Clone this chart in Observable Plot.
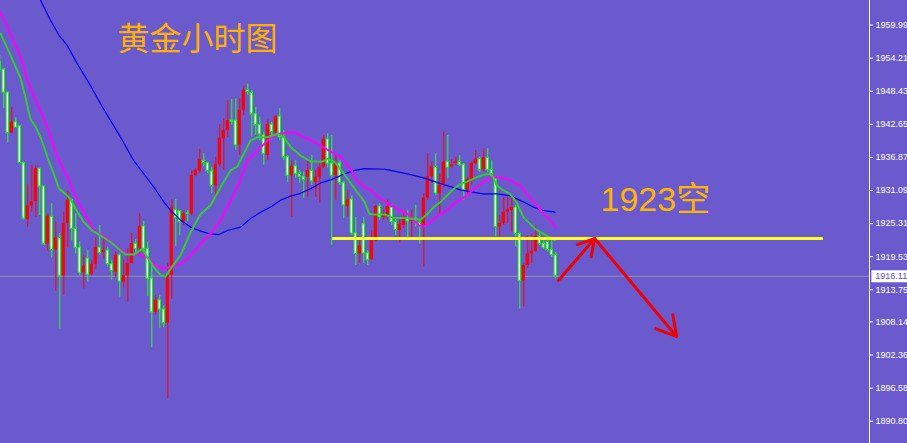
<!DOCTYPE html>
<html><head><meta charset="utf-8">
<script src="https://cdn.jsdelivr.net/npm/d3@7"></script>
<script src="https://cdn.jsdelivr.net/npm/@observablehq/plot@0.6"></script>
<style>html,body{margin:0;padding:0;background:#6A5ACD;overflow:hidden}</style>
</head><body><div id="chart"></div>
<script>
// bar index of the first candle (partly cut at the left edge)
const firstBar = -1;
const opens = [
1953.5,1952.2,1948.2,1941.1,1943.0,1942.3,1935.9,1926.0,1928.4,1929.2,
1934.9,1931.8,1921.7,1926.5,1920.7,1922.8,1916.2,1925.3,1929.4,1924.4,
1921.1,1916.7,1919.2,1916.4,1918.2,1921.1,1920.2,1920.6,1918.2,1916.8,
1919.8,1915.1,1916.2,1918.3,1921.8,1920.9,1924.8,1920.9,1915.7,1909.8,
1911.9,1910.3,1907.9,1916.3,1927.7,1927.5,1925.6,1927.1,1927.0,1933.7,
1934.5,1936.3,1935.9,1934.4,1931.9,1935.6,1940.1,1941.6,1943.3,1943.3,
1939.0,1945.1,1948.6,1948.1,1944.4,1942.5,1940.7,1937.2,1942.6,1941.1,
1944.0,1940.4,1936.9,1933.7,1935.3,1934.0,1933.4,1933.4,1934.5,1932.5,
1933.4,1935.1,1940.0,1935.8,1933.7,1935.8,1932.4,1928.3,1929.5,1923.6,
1920.0,1925.2,1920.1,1919.0,1922.3,1928.3,1926.4,1926.4,1928.1,1925.6,
1924.1,1925.0,1926.2,1925.7,1926.2,1925.4,1925.0,1929.8,1933.5,1935.2,
1930.5,1932.0,1936.1,1935.2,1935.8,1936.1,1935.6,1931.1,1933.0,1935.8,
1936.6,1934.7,1936.8,1934.7,1933.0,1924.7,1925.3,1927.3,1927.6,1928.1,
1923.5,1915.3,1918.0,1920.0,1920.5,1923.1,1921.8,1922.1,1920.7,1919.8];
const highs = [
1954.7,1952.4,1948.2,1945.6,1943.8,1942.4,1936.0,1932.1,1935.5,1935.5,
1934.9,1931.8,1927.0,1928.8,1925.6,1923.6,1927.3,1931.0,1929.5,1927.0,
1922.1,1919.8,1920.6,1918.9,1922.8,1925.0,1922.8,1921.2,1918.9,1920.3,
1920.0,1919.0,1920.9,1923.6,1922.5,1927.0,1925.7,1922.1,1918.3,1912.8,
1912.8,1911.0,1918.3,1929.5,1929.5,1927.6,1927.6,1927.6,1934.5,1934.9,
1938.3,1937.5,1936.0,1935.2,1936.9,1942.6,1943.6,1946.8,1947.0,1947.1,
1947.1,1949.3,1949.7,1948.6,1945.6,1943.9,1941.3,1943.4,1943.0,1944.2,
1945.4,1941.6,1937.2,1936.3,1936.3,1934.6,1934.3,1936.3,1937.2,1934.6,
1935.8,1940.7,1941.0,1940.7,1937.5,1936.3,1932.7,1931.1,1930.2,1926.4,
1922.4,1926.4,1920.6,1924.1,1928.5,1928.8,1927.6,1929.4,1928.5,1926.4,
1925.9,1927.3,1927.6,1927.6,1928.5,1926.0,1930.5,1937.5,1936.1,1937.5,
1934.0,1941.3,1940.7,1936.5,1936.9,1937.2,1935.8,1933.4,1936.1,1938.1,
1936.9,1938.4,1938.4,1936.3,1933.4,1926.7,1929.9,1929.9,1929.9,1928.5,
1923.8,1918.4,1923.2,1923.4,1924.7,1923.5,1922.4,1922.7,1922.4,1920.3];
const lows = [
1951.7,1945.4,1939.4,1941.0,1942.1,1935.8,1925.9,1924.7,1927.3,1926.4,
1926.7,1921.5,1920.5,1919.3,1913.5,1906.9,1912.8,1921.1,1922.3,1920.0,
1916.2,1913.9,1915.1,1916.2,1917.3,1919.8,1919.1,1917.7,1915.4,1915.9,
1912.5,1914.1,1911.6,1918.3,1920.0,1920.0,1920.3,1912.6,1903.6,1909.3,
1907.0,1907.1,1894.7,1912.1,1921.3,1923.2,1925.0,1925.6,1926.7,1933.5,
1934.0,1935.2,1934.0,1930.5,1929.9,1935.2,1934.6,1940.3,1942.5,1938.1,
1937.2,1944.2,1947.7,1940.4,1940.7,1939.8,1935.5,1936.3,1939.8,1940.7,
1939.8,1936.3,1932.5,1926.4,1933.2,1932.3,1929.7,1929.9,1932.0,1929.9,
1928.9,1935.0,1935.0,1921.5,1929.4,1932.0,1926.2,1926.4,1923.2,1918.0,
1918.3,1918.3,1918.0,1918.9,1922.1,1925.9,1925.9,1925.9,1925.0,1923.2,
1921.9,1924.5,1922.9,1922.9,1924.7,1921.7,1917.7,1929.4,1932.3,1930.2,
1926.9,1931.6,1933.2,1935.0,1935.5,1935.3,1929.4,1930.2,1932.0,1935.5,
1934.2,1934.4,1934.2,1933.4,1923.0,1923.0,1925.0,1925.3,1923.8,1921.2,
1910.4,1910.8,1917.5,1918.3,1920.3,1921.5,1920.8,1920.4,1919.4,1915.7];
const closes = [
1952.2,1948.2,1941.1,1943.1,1942.1,1935.9,1926.2,1928.4,1929.1,1934.9,
1931.8,1921.7,1926.6,1920.7,1922.8,1916.2,1925.3,1929.4,1924.4,1921.1,
1916.7,1917.9,1916.4,1918.2,1921.1,1920.2,1920.6,1918.2,1917.0,1919.8,
1915.2,1916.2,1918.3,1921.8,1920.9,1924.8,1920.9,1915.7,1909.8,1911.9,
1910.3,1907.9,1916.3,1928.1,1926.3,1925.6,1927.0,1927.0,1933.7,1934.6,
1936.5,1935.9,1934.5,1931.9,1935.6,1940.2,1941.6,1943.3,1943.1,1939.0,
1945.1,1948.6,1948.3,1944.4,1942.5,1940.9,1937.5,1942.6,1941.3,1944.0,
1940.4,1936.9,1933.7,1935.3,1934.0,1933.5,1932.9,1934.6,1932.7,1933.4,
1935.1,1940.0,1935.8,1933.7,1935.8,1932.4,1928.5,1929.5,1923.6,1920.0,
1921.4,1920.1,1919.0,1922.3,1928.3,1926.4,1926.7,1928.3,1925.6,1924.2,
1925.2,1926.4,1925.7,1926.0,1925.7,1924.9,1929.8,1933.5,1935.2,1930.6,
1932.0,1936.1,1935.1,1935.6,1936.1,1935.6,1931.1,1933.0,1935.8,1936.6,
1934.7,1936.8,1934.7,1934.0,1924.7,1925.3,1927.3,1927.7,1928.1,1923.5,
1915.3,1918.0,1920.0,1920.5,1923.1,1921.8,1921.1,1920.7,1919.8,1916.11];

// moving averages: [bar index, price]
const fastMA = [
[-0.8,1958.5],[1.7,1954.7],[4.2,1950.7],[5.4,1947.4],[6.7,1943.5],[7.9,1942.3],[9.2,1940.4],
[10.9,1936.9],[12.5,1934.0],[13.8,1931.4],[15.4,1930.5],[16.7,1929.6],[17.9,1927.9],[20,1925.6],
[22.1,1924.1],[24.2,1923.2],[26.7,1922.1],[29.2,1920.6],[30.4,1919.9],[32.5,1919.9],[34.6,1920.9],
[35.9,1919.4],[37.5,1917.7],[39.2,1916.3],[40.4,1916.0],[41.7,1917.4],[44.2,1919.8],[46.7,1923.8],
[49.2,1927.0],[51.7,1928.5],[54.2,1931.7],[56.7,1934.6],[58.4,1935.3],[60,1937.5],[61.7,1939.8],
[63.4,1940.4],[65.9,1940.4],[68.4,1941.0],[70,1940.4],[71.7,1938.7],[74.2,1937.2],[76.7,1936.2],
[79.4,1936.1],[81,1936.6],[82.7,1936.1],[84.4,1934.6],[86,1933.1],[87.7,1931.4],[90.2,1929.1],
[91.4,1927.0],[92.7,1926.9],[95.2,1926.9],[97.5,1926.3],[100,1926.3],[102.5,1926.1],[104.2,1926.0],
[105.9,1927.0],[107.5,1928.2],[109.2,1929.1],[110.9,1930.3],[112.5,1931.4],[114.2,1932.2],
[115.7,1932.6],[118.2,1933.4],[119.8,1933.8],[121.5,1934.0],[122.4,1933.4],[123.2,1932.0],
[124.9,1931.1],[126.5,1930.5],[128.2,1929.0],[129.9,1926.4],[131.5,1925.3],[133.2,1924.2],
[134.9,1923.5],[136.5,1922.9],[137.8,1922.4]];
const slowMA = [
[-0.8,1962.2],[1.7,1958.5],[4.2,1954.4],[5.9,1950.3],[8.4,1946.2],[10.9,1942.2],[13.4,1936.9],
[15.9,1933.4],[18.4,1929.4],[20.9,1926.2],[22.5,1924.1],[25.9,1922.7],[28.4,1921.2],[30.9,1920.0],
[33.4,1920.0],[35.9,1919.4],[37.9,1918.0],[40,1917.4],[41.7,1917.8],[44.2,1918.3],[45.9,1919.2],
[49.2,1921.8],[51.7,1923.5],[54.2,1925.9],[56.7,1929.4],[58.4,1931.7],[60.9,1936.3],[63.4,1938.1],
[65.9,1939.8],[68.4,1941.0],[70,1941.1],[72.5,1941.3],[75,1940.4],[78.4,1939.3],[81.9,1937.8],
[84.4,1936.9],[86.9,1934.6],[88.5,1932.6],[90.2,1931.7],[91.9,1931.1],[93.5,1930.0],[95.2,1929.2],
[96.7,1928.5],[99.2,1927.6],[100.9,1927.0],[102.5,1925.9],[103.8,1925.0],[105,1924.8],[106.7,1925.6],
[108.4,1926.6],[110,1927.3],[111.7,1928.2],[113.2,1929.1],[115.7,1930.2],[118.2,1931.7],
[120.7,1932.9],[122.4,1933.5],[124,1933.4],[126.5,1932.9],[129,1932.0],[131.5,1929.9],
[133.2,1928.5],[134.9,1927.1],[136.5,1926.0],[138,1924.7]];
const longMA = [
[9.2,1964.3],[11.7,1960.8],[13.8,1958.2],[15.9,1956.4],[18.4,1953.2],[21.7,1949.4],[24.2,1946.2],
[26.7,1943.3],[29.2,1940.4],[32.5,1936.3],[35,1934.0],[37.5,1931.7],[40,1929.1],[41.7,1927.6],
[44.2,1925.9],[46.7,1924.7],[49.2,1924.0],[51.7,1923.5],[53.8,1923.4],[55.9,1924.1],[59.2,1924.7],
[61.7,1926.2],[64.2,1927.3],[66.7,1928.2],[69.2,1929.4],[71.7,1930.1],[74.2,1930.6],[76.7,1931.4],
[79.2,1932.4],[81.9,1933.0],[85.2,1934.0],[87.7,1934.6],[90.2,1934.9],[95.2,1934.8],[96.7,1934.6],
[100.9,1934.0],[105,1933.3],[109.2,1932.3],[114.2,1931.2],[116.5,1930.9],[119.8,1930.5],
[123.2,1930.5],[126.5,1930.2],[129.9,1929.1],[132.4,1928.2],[134.9,1927.6],[137.8,1927.3]];

const tickLabels = ["1959.99","1954.21","1948.43","1942.65","1936.87","1931.09","1925.31",
  "1919.53","1913.75","1908.14","1902.36","1896.58","1890.80"];
const lastPrice = 1916.11;
const shortLevel = 1922.7;          // yellow line
const shortLevelBars = [82.2, 204.9];
const arrowPoints = [[138.7,1915.4],[147.7,1922.7],[168.2,1905.6]];
const titleText = "黄金小时图";
const noteText = "1923空";

// view extents
const xDomain = [-0.825, 216.425];
const yDomain = [1886.9, 1964.28];

const bars = opens.map((o, k) => ({i: k + firstBar, o, h: highs[k], l: lows[k], c: closes[k]}));
const upBars = bars.filter(d => d.c >= d.o);
const downBars = bars.filter(d => d.c < d.o);
const segs = arrowPoints.slice(1).map((p, k) => ({x1: arrowPoints[k][0], y1: arrowPoints[k][1], x2: p[0], y2: p[1]}));

const chart = Plot.plot({
  width: 907, height: 443,
  marginLeft: 0, marginRight: 38, marginTop: 0, marginBottom: 0,
  style: {background: "#6A5ACD", color: "white", fontSize: "9px", fontFamily: "Liberation Sans, Arial, sans-serif"},
  x: {domain: xDomain, axis: null},
  y: {domain: yDomain, axis: "right", ticks: tickLabels.map(Number), tickFormat: d => d.toFixed(2), tickSize: 3, tickPadding: 3, label: null},
  marks: [
    Plot.ruleY([lastPrice], {stroke: "#9494a8", strokeWidth: 1}),
    Plot.ruleX(upBars, {x: "i", y1: "l", y2: "h", stroke: "#ff0000", strokeWidth: 1}),
    Plot.ruleX(downBars, {x: "i", y1: "l", y2: "h", stroke: "#22ff22", strokeWidth: 1}),
    Plot.rect(downBars, {x1: d => d.i - 0.3, x2: d => d.i + 0.3, y1: "o", y2: "c", fill: "white", stroke: "#00ff00", strokeWidth: 1}),
    Plot.rect(upBars, {x1: d => d.i - 0.4, x2: d => d.i + 0.4, y1: "o", y2: "c", fill: "#ff0000"}),
    Plot.line(longMA, {x: d => d[0], y: d => d[1], stroke: "#0000ee", strokeWidth: 1.2}),
    Plot.line(slowMA, {x: d => d[0], y: d => d[1], stroke: "#ff00ff", strokeWidth: 2}),
    Plot.line(fastMA, {x: d => d[0], y: d => d[1], stroke: "#33cc33", strokeWidth: 2}),
    Plot.ruleY([shortLevel], {x1: shortLevelBars[0], x2: shortLevelBars[1], stroke: "#ffff22", strokeWidth: 3}),
    Plot.arrow(segs, {x1: "x1", y1: "y1", x2: "x2", y2: "y2", stroke: "#ee0000", strokeWidth: 3, headLength: 11, headAngle: 60}),
    Plot.ruleX([xDomain[1]], {stroke: "white", strokeWidth: 1}),
    Plot.ruleY([lastPrice], {x1: xDomain[1] + 0.6, x2: xDomain[1] + 12, stroke: "white", strokeWidth: 12}),
    Plot.text([lastPrice], {x: xDomain[1] + 1.45, y: d => d, text: d => d.toFixed(2), textAnchor: "start", fill: "#5a4cc8", fontSize: 9}),
    Plot.text([titleText], {frameAnchor: "top-left", text: d => d, dx: 117, dy: 27, textAnchor: "start", lineAnchor: "top",
      fontSize: 32, fill: "#ffb000", fontFamily: "Noto Sans CJK SC"}),
    Plot.text([noteText], {frameAnchor: "top-left", text: d => d, dx: 600, dy: 186, textAnchor: "start", lineAnchor: "top",
      fontSize: 34, fill: "#ffb400", fontFamily: "Liberation Sans, Noto Sans CJK SC"})
  ]
});
document.getElementById("chart").appendChild(chart);
</script></body></html>
